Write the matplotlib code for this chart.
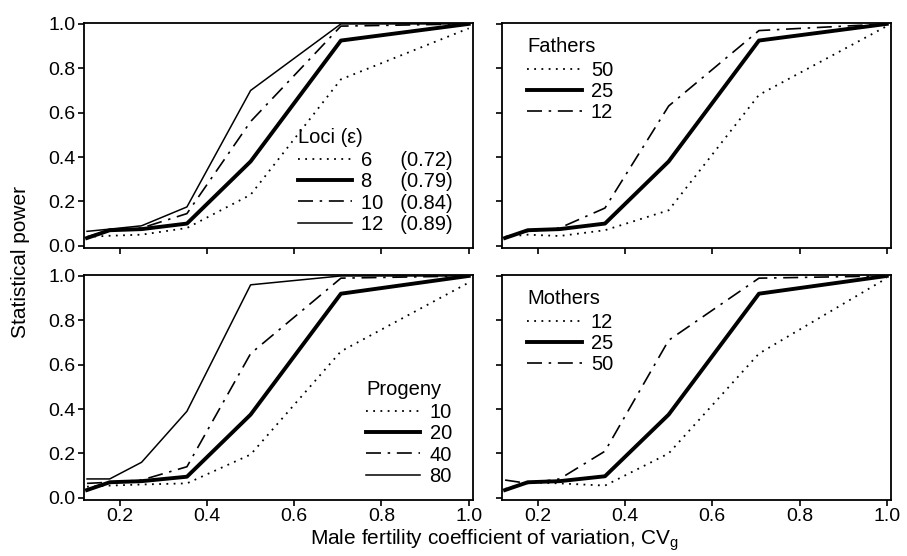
import matplotlib
matplotlib.use("Agg")
from matplotlib import pyplot as plt

plt.rcParams['font.family'] = ['Liberation Sans', 'DejaVu Sans']
plt.rcParams['font.size'] = 14

# valores de CV (x) comuns a todos os painéis
cv = [0.125, 0.177, 0.25, 0.354, 0.5, 0.707, 1.0]

# Loci (epsilon)
loci_labels = ['6     (0.72)', '8     (0.79)', '10   (0.84)', '12   (0.89)']
loci_6 = [0.04, 0.045, 0.05, 0.08, 0.23, 0.75, 0.98]
loci_8 = [0.035, 0.07, 0.075, 0.10, 0.38, 0.925, 1.0]
loci_10 = [0.04, 0.07, 0.08, 0.145, 0.56, 0.99, 1.0]
loci_12 = [0.065, 0.075, 0.09, 0.175, 0.70, 1.0, 1.0]

# Fathers
fathers_labels = ['50', '25', '12']
fathers_50 = [0.04, 0.05, 0.044, 0.07, 0.16, 0.68, 0.99]
fathers_25 = [0.035, 0.07, 0.075, 0.10, 0.38, 0.925, 1.0]
fathers_12 = [0.04, 0.065, 0.08, 0.17, 0.63, 0.97, 1.0]

# Progeny
progeny_labels = ['10', '20', '40', '80']
progeny_10 = [0.05, 0.055, 0.06, 0.065, 0.195, 0.66, 0.97]
progeny_20 = [0.035, 0.07, 0.075, 0.095, 0.375, 0.92, 1.0]
progeny_40 = [0.065, 0.07, 0.08, 0.14, 0.65, 0.99, 1.0]
progeny_80 = [0.085, 0.085, 0.16, 0.39, 0.96, 1.0, 1.0]

# Mothers
mothers_labels = ['12', '25', '50']
mothers_12 = [0.04, 0.07, 0.065, 0.055, 0.20, 0.65, 0.99]
mothers_25 = [0.035, 0.07, 0.075, 0.097, 0.375, 0.92, 1.0]
mothers_50 = [0.08, 0.065, 0.085, 0.21, 0.71, 0.99, 1.0]

estilos = {
    'pontilhado': dict(color='black', lw=1.3, ls=(0, (1, 3))),
    'grosso': dict(color='black', lw=2.8, ls='-'),
    'tracoponto': dict(color='black', lw=1.2, ls=(0, (9, 4, 1.5, 4))),
    'fino': dict(color='black', lw=1.1, ls='-'),
}

fig = plt.figure(figsize=(9.07, 5.56), dpi=100)
w, h = 0.429, 0.405
ax_tl = fig.add_axes([0.0926, 0.554, w, h])
ax_tr = fig.add_axes([0.5535, 0.554, w, h])
ax_bl = fig.add_axes([0.0926, 0.1007, w, h])
ax_br = fig.add_axes([0.5535, 0.1007, w, h])


def painel(ax, series, rotulos, titulo, ancora):
    tipos = ['pontilhado', 'grosso', 'tracoponto', 'fino']
    for y, lab, t in zip(series, rotulos, tipos):
        ax.plot(cv, y, label=lab, **estilos[t])
    ax.set_xlim(0.118, 1.01)
    ax.set_ylim(-0.01, 1.005)
    ax.set_xticks([0.2, 0.4, 0.6, 0.8, 1.0])
    ax.set_yticks([0.0, 0.2, 0.4, 0.6, 0.8, 1.0])
    ax.tick_params(direction='out', length=4, width=1.2, labelsize=14, pad=2)
    for s in ax.spines.values():
        s.set_linewidth(1.3)
    leg = ax.legend(title=titulo, loc='upper left', bbox_to_anchor=ancora,
                    frameon=False, handlelength=2.7, handletextpad=0.45,
                    labelspacing=0.12, borderpad=0, borderaxespad=0,
                    fontsize=14.5, title_fontsize=14.5, alignment='left')
    leg._legend_box.sep = 3


painel(ax_tl, [loci_6, loci_8, loci_10, loci_12], loci_labels, 'Loci (ε)', (0.55, 0.535))
painel(ax_tr, [fathers_50, fathers_25, fathers_12], fathers_labels, 'Fathers', (0.065, 0.935))
painel(ax_bl, [progeny_10, progeny_20, progeny_40, progeny_80], progeny_labels, 'Progeny', (0.725, 0.535))
painel(ax_br, [mothers_12, mothers_25, mothers_50], mothers_labels, 'Mothers', (0.065, 0.935))

for ax in (ax_tl, ax_tr):
    ax.tick_params(labelbottom=False)
for ax in (ax_tr, ax_br):
    ax.tick_params(labelleft=False)

fig.text(0.023, 0.529, 'Statistical power', rotation=90, ha='center', va='center', fontsize=15)
fig.text(0.545, 0.02, r'Male fertility coefficient of variation, CV$_\mathregular{g}$',
         ha='center', va='baseline', fontsize=15)

fig.savefig('out.png', dpi=100)
